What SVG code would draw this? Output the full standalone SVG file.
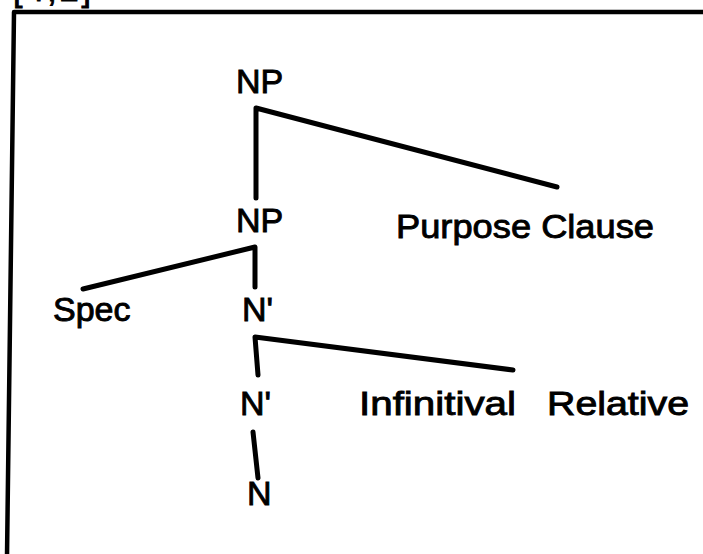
<svg xmlns="http://www.w3.org/2000/svg" width="703" height="554" viewBox="0 0 703 554">
  <style>
    .lbl { font-family: "Liberation Sans", Arial, Helvetica, sans-serif; font-size: 34px; fill: #000; stroke: #000; stroke-width: 0.9; }
    .edge { fill: none; stroke: #000; stroke-width: 5; stroke-linecap: round; stroke-linejoin: round; }
    .frame { fill: none; stroke: #000; stroke-width: 4.5; stroke-linejoin: round; }
  </style>

  <rect width="703" height="554" fill="#fff"/>

  <!-- example number, clipped at the top edge -->
  <text class="lbl" x="13" y="1" font-size="30" textLength="78" lengthAdjust="spacing">[4,2]</text>

  <!-- frame around the tree, open to the right and bottom -->
  <polyline class="frame" points="7,556 14,12 705,12"/>

  <g id="connectors">
    <polyline class="edge" points="256,198 256,108 557,187"/>
    <polyline class="edge" points="83,289 255,247 255,287"/>
    <polyline class="edge" points="258,375 255,337 513,370"/>
    <line class="edge" x1="253" y1="432" x2="258" y2="478"/>
  </g>

  <g id="np-top"><text class="lbl" x="236" y="93">NP</text></g>
  <g id="np"><text class="lbl" x="236" y="232">NP</text></g>
  <g id="purpose-clause"><text class="lbl" x="396" y="238" textLength="258" lengthAdjust="spacingAndGlyphs">Purpose Clause</text></g>
  <g id="spec"><text class="lbl" x="53" y="321">Spec</text></g>
  <g id="n-bar-top"><text class="lbl" x="242" y="321">N'</text></g>
  <g id="n-bar"><text class="lbl" x="240" y="415">N'</text></g>
  <g id="infinitival-relative">
    <text class="lbl" x="359" y="415" textLength="157" lengthAdjust="spacingAndGlyphs">Infinitival</text>
    <text class="lbl" x="547" y="415" textLength="142" lengthAdjust="spacingAndGlyphs">Relative</text>
  </g>
  <g id="n"><text class="lbl" x="247" y="505" font-size="32">N</text></g>
</svg>
